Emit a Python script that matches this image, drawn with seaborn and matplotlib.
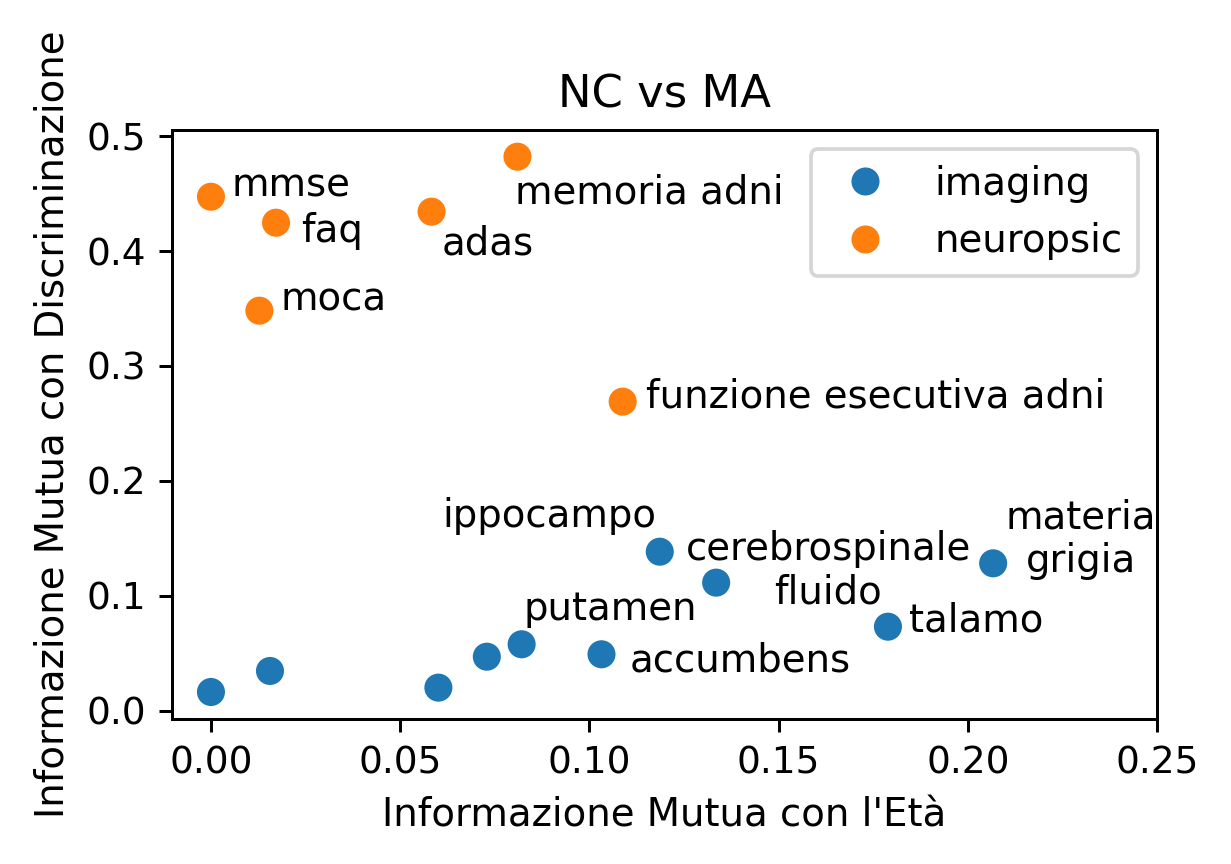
import matplotlib
matplotlib.use("Agg")
import matplotlib.pyplot as plt
import pandas as pd
import seaborn as sns

# Mutual information per feature
features = ["", "", "", "", "putamen", "accumbens", "ippocampo",
            "cerebrospinale\nfluido", "talamo", "materia\ngrigia",
            "mmse", "faq", "moca", "adas", "memoria adni",
            "funzione esecutiva adni"]
mi_age = [0.0, 0.0156, 0.0601, 0.0729, 0.0821, 0.1032, 0.1186,
          0.1335, 0.1789, 0.2067,
          0.0, 0.0172, 0.0128, 0.0583, 0.0810, 0.1088]
mi_disc = [0.0165, 0.0348, 0.0203, 0.0472, 0.0580, 0.0493, 0.1385,
           0.1116, 0.0733, 0.1284,
           0.4472, 0.4246, 0.3481, 0.4342, 0.4820, 0.2690]
groups = ["imaging"] * 10 + ["neuropsic"] * 6

# label placement: (dx px, dy px, ha); dy is for the last text line
label_offsets = {
    "putamen": (2, 24, "left"),
    "accumbens": (28, -17, "left"),
    "ippocampo": (-3, 25, "right"),
    "cerebrospinale\nfluido": (112, -21, "center"),
    "talamo": (21, -5, "left"),
    "materia\ngrigia": (88, -9, "center"),
    "mmse": (21, 0, "left"),
    "faq": (25, -19, "left"),
    "moca": (21, 0, "left"),
    "adas": (10, -43, "left"),
    "memoria adni": (-2, -47, "left"),
    "funzione esecutiva adni": (23, -6, "left"),
}

df = pd.DataFrame({"feature": features, "eta": mi_age,
                   "disc": mi_disc, "tipo": groups})

fig = plt.figure(figsize=(1231 / 270, 864 / 270), dpi=270)
ax = fig.add_axes([0.1397, 0.1678, 0.8002, 0.6817])

sns.scatterplot(data=df, x="eta", y="disc", hue="tipo",
                hue_order=["imaging", "neuropsic"],
                palette=["tab:blue", "tab:orange"],
                s=56, linewidth=0, ax=ax)

for _, row in df.iterrows():
    if not row["feature"]:
        continue
    dx, dy, ha = label_offsets[row["feature"]]
    ax.annotate(row["feature"], (row["eta"], row["disc"]),
                xytext=(dx, dy), textcoords="offset pixels",
                ha=ha, va="baseline", multialignment="center",
                fontsize=10.3)

ax.set_xlim(-0.0103, 0.25)
ax.set_ylim(-0.0070, 0.5052)
ax.set_xticks([0.0, 0.05, 0.10, 0.15, 0.20, 0.25])
ax.set_yticks([0.0, 0.1, 0.2, 0.3, 0.4, 0.5])
ax.set_xlabel("Informazione Mutua con l'Età", fontsize=10.3)
ax.set_ylabel("Informazione Mutua con Discriminazione", fontsize=10.3)
ax.set_title("NC vs MA")
ax.legend(loc="upper right", fontsize=10.3)

fig.savefig("out.png", dpi=270)
